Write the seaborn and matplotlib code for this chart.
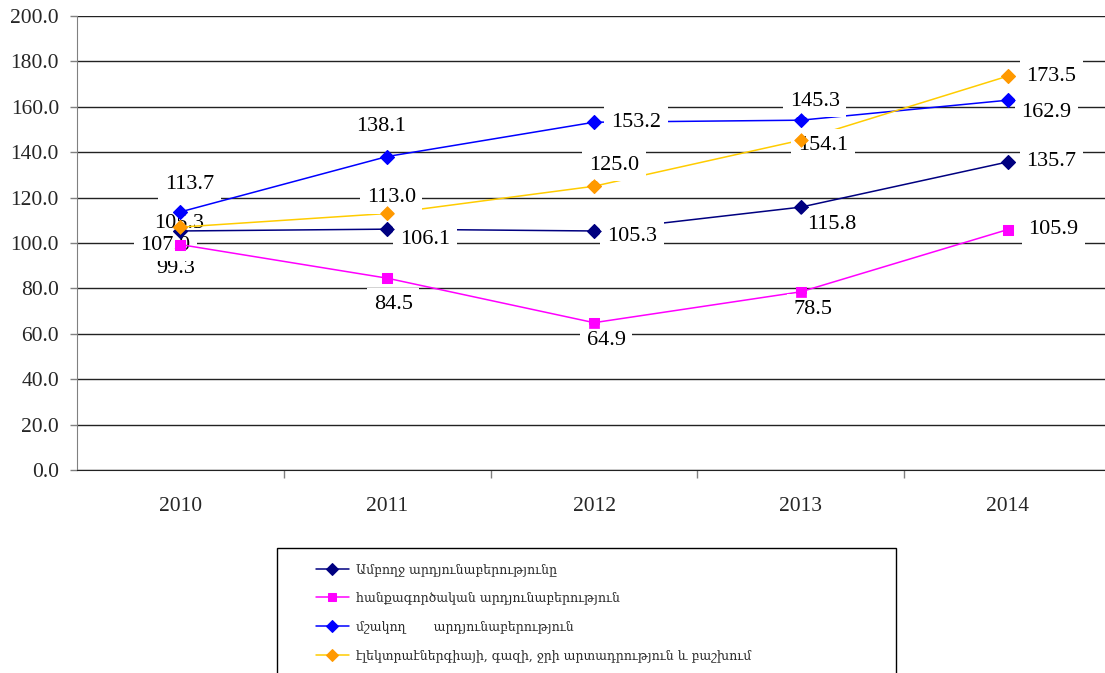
import numpy as np
import pandas as pd
import seaborn as sns
import matplotlib.pyplot as plt
from matplotlib.patches import Rectangle

years = ['2010', '2011', '2012', '2013', '2014']

total = [105.3, 106.1, 105.3, 115.8, 135.7]
mining = [99.3, 84.5, 64.9, 78.5, 105.9]
manuf = [113.7, 138.1, 153.2, 154.1, 162.9]
energy = [107.0, 113.0, 125.0, 145.3, 173.5]

# labels as printed on the chart (2013 labels of the two top series are swapped in the source)
total_lbl = ['105.3', '106.1', '105.3', '115.8', '135.7']
mining_lbl = ['99.3', '84.5', '64.9', '78.5', '105.9']
manuf_lbl = ['113.7', '138.1', '153.2', '145.3', '162.9']
energy_lbl = ['107.0', '113.0', '125.0', '154.1', '173.5']

names = ['Ամբողջ արդյունաբերությունը',
         'հանքագործական արդյունաբերություն',
         'մշակող       արդյունաբերություն',
         'էլեկտրաէներգիայի, գազի, ջրի արտադրություն և բաշխում']

sns.set_style('white')
plt.rcParams['font.family'] = ['Liberation Serif', 'DejaVu Serif', 'DejaVu Sans']

fig = plt.figure(figsize=(11.05, 6.73), dpi=100)
ax = fig.add_axes([77 / 1105, 203 / 673, 1034 / 1105, 454 / 673])

# (values, labels, line colour, marker, marker colour, label offsets px (dx, dy down))
series = [
    (total, total_lbl, '#000080', 'D', '#000080',
     [(-1, -7), (38, 10), (38, 6), (31, 17), (44, 0)]),
    (mining, mining_lbl, '#FF00FF', 's', '#FF00FF',
     [(-5, 24), (6, 26), (12, 18), (12, 18), (46, 0)]),
    (manuf, manuf_lbl, '#0000FF', 'D', '#0000FF',
     [(9, -27), (-6, -30), (42, 0), (14, -19), (39, 12)]),
    (energy, energy_lbl, '#FFCC00', 'D', '#FF9900',
     [(-15, 18), (4, -16), (20, -21), (22, 5), (44, 0)]),
]

for (vals, lbls, col, mk, mcol, offs), name in zip(series, names):
    df = pd.DataFrame({'year': years, 'value': vals})
    ms = 7.5 if mk == 's' else 7
    sns.lineplot(data=df, x='year', y='value', ax=ax, color=col, lw=1.1,
                 marker=mk, markersize=ms,
                 markerfacecolor=mcol, markeredgecolor=mcol,
                 label=name, zorder=3)
    # markers on top of the label boxes
    sns.scatterplot(data=df, x='year', y='value', ax=ax, marker=mk, s=ms ** 2,
                    color=mcol, edgecolor=mcol, linewidth=0.5, zorder=6, legend=False)
    for i, (v, t, (dx, dy)) in enumerate(zip(vals, lbls, offs)):
        ax.annotate(t, (i, v), xytext=(dx, -dy), textcoords='offset pixels',
                    ha='center', va='center', fontsize=16, color='black',
                    zorder=2.5 if i == 0 else 5,
                    bbox=dict(boxstyle='square,pad=0.3', fc='white', ec='none'))

ax.set_xlim(-0.5, 4.5)
ax.set_ylim(0, 200)
ax.set_yticks(np.arange(0, 201, 20))
ax.set_yticklabels([f'{v:.1f}' for v in np.arange(0, 201, 20)])
ax.set_xticks(range(len(years)))
ax.set_xticks(np.arange(0.5, 4.6, 1), minor=True)
ax.set_xlabel('')
ax.set_ylabel('')
ax.yaxis.grid(True, color='#222222', lw=1)
ax.set_axisbelow(True)
ax.tick_params(axis='y', which='major', left=True, length=5, width=1,
               color='#808080', labelsize=15.5, pad=8)
ax.tick_params(axis='x', which='major', bottom=False, labelsize=15.5, pad=16)
ax.tick_params(axis='x', which='minor', bottom=True, length=6, width=1,
               color='#808080')
for s in ['top', 'right']:
    ax.spines[s].set_visible(False)
ax.spines['left'].set_color('#808080')
ax.spines['bottom'].set_color('#222222')

ax.get_legend().remove()
handles, labels = ax.get_legend_handles_labels()
leg = fig.legend(handles, labels, loc='upper left',
                 bbox_to_anchor=(316 / 1105, 1 - 563 / 673), frameon=False,
                 borderpad=0, borderaxespad=0, handlelength=2.6, handletextpad=0.6,
                 labelspacing=1.25,
                 prop={'family': ['DejaVu Serif', 'DejaVu Sans'], 'size': 9})
for h in leg.legend_handles:
    h.set_markersize(6)
fig.add_artist(Rectangle((277 / 1105, -0.05), 619 / 1105, 1 - 548 / 673 + 0.05,
                         transform=fig.transFigure, fill=False, ec='black', lw=1))

fig.savefig('out.png', dpi=100)
